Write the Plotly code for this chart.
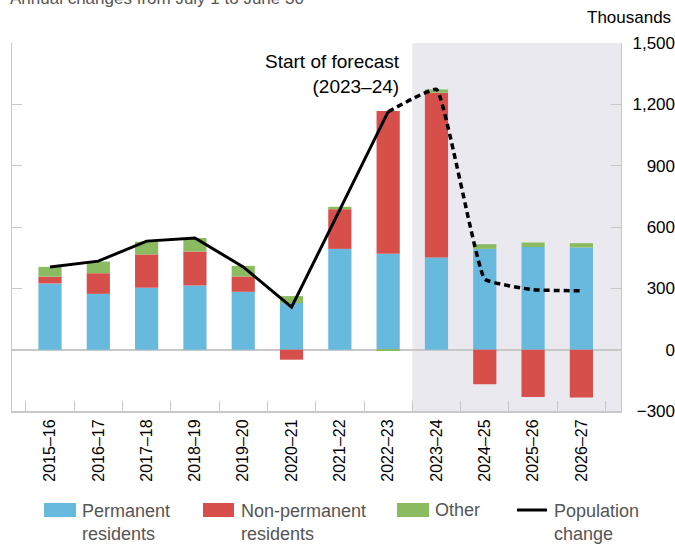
import plotly.graph_objects as go

years = ["2015–16", "2016–17", "2017–18", "2018–19", "2019–20", "2020–21",
         "2021–22", "2022–23", "2023–24", "2024–25", "2025–26", "2026–27"]
permanent = [324, 273, 303, 314, 283, 228, 493, 469, 451, 493, 502, 500]
non_permanent = [33, 101, 163, 166, 75, -49, 194, 698, 806, -169, -231, -234]
other = [48, 57, 62, 66, 52, 34, 12, -6, 16, 23, 22, 21]
pop_hist_years = years[:8]
pop_hist = [404, 433, 531, 546, 405, 208, 685, 1164]
pop_fcst_years = years[7:]
pop_fcst = [1164, 1273, 345, 293, 288]
yticks = [-300, 0, 300, 600, 900, 1200, 1500]

legend_labels = ["Permanent<br>residents", "Non-permanent<br>residents", "Other", "Population<br>change"]

C_BLUE = "#68b9de"
C_RED = "#d64f4b"
C_GREEN = "#8bbb61"
C_SHADE = "#e9e9ef"
C_AXIS = "#c8c8c8"
FONT = "Liberation Sans, Arial, Helvetica, sans-serif"

W, H = 675, 546
ml, mr, mt, mb = 12, 0, 43, 135
pw_total = W - ml - mr          # paper width in px
ph = H - mt - mb
plot_right = 621                # right edge of plotting area in px
x_dom_end = (plot_right - ml) / pw_total


def px(x):
    return (x - ml) / pw_total


def py(y):
    return (H - mb - y) / ph


fig = go.Figure()
for vals, col in [(permanent, C_BLUE), (non_permanent, C_RED), (other, C_GREEN)]:
    fig.add_trace(go.Bar(x=years, y=vals, marker=dict(color=col, line=dict(width=0)),
                         width=0.48, showlegend=False))

fig.add_trace(go.Scatter(x=pop_hist_years, y=pop_hist, mode="lines", yaxis="y2",
                         line=dict(color="black", width=3), showlegend=False))
fig.add_trace(go.Scatter(x=pop_fcst_years, y=pop_fcst, mode="lines", yaxis="y2",
                         line=dict(color="black", width=3.5, dash="6px,4px",
                                   shape="spline", smoothing=0.3),
                         showlegend=False))

shapes = [
    dict(type="rect", xref="x", yref="paper", x0=7.5, x1=11.82, y0=0, y1=1,
         fillcolor=C_SHADE, line=dict(width=0), layer="below"),
]
# manual legend
swatch_x = [(44, 76), (203, 234), (397, 429)]
for (x0, x1), col in zip(swatch_x, [C_BLUE, C_RED, C_GREEN]):
    shapes.append(dict(type="rect", xref="paper", yref="paper", x0=px(x0), x1=px(x1),
                       y0=py(517), y1=py(503), fillcolor=col, line=dict(width=0)))
shapes.append(dict(type="line", xref="paper", yref="paper", x0=px(517), x1=px(547),
                   y0=py(510), y1=py(510), line=dict(color="black", width=3)))

annotations = [
    dict(text="Annual changes from July 1 to June 30", xref="paper", yref="paper",
         x=px(8), y=py(-1), xanchor="left", yanchor="middle", showarrow=False,
         font=dict(size=17, color="#555555", family=FONT)),
    dict(text="Thousands", xref="paper", yref="paper", x=px(673), y=py(17),
         xanchor="right", yanchor="middle", showarrow=False,
         font=dict(size=17, color="black", family=FONT)),
    dict(text="Start of forecast<br>(2023–24)", xref="paper", yref="paper", x=px(402), y=py(74),
         xanchor="right", yanchor="middle", align="right", showarrow=False,
         font=dict(size=19, color="black", family=FONT)),
]
for lx, lab in zip([80, 239, 433, 552], legend_labels):
    two = "<br>" in lab
    annotations.append(dict(text=lab, xref="paper", yref="paper", x=px(lx),
                            y=py(499) if two else py(510),
                            xanchor="left", yanchor="top" if two else "middle",
                            align="left", showarrow=False,
                            font=dict(size=18, color="#555555", family=FONT)))

fig.update_layout(
    width=W, height=H,
    margin=dict(l=ml, r=mr, t=mt, b=mb, autoexpand=False),
    paper_bgcolor="white", plot_bgcolor="white",
    barmode="relative",
    font=dict(family=FONT, color="black"),
    shapes=shapes, annotations=annotations,
    xaxis=dict(type="category", range=[-0.787, 11.82], domain=[0, x_dom_end],
               tickson="boundaries", automargin=False,
               ticks="inside", ticklen=10, tickcolor=C_AXIS, tickwidth=1,
               showline=True, linecolor=C_AXIS, linewidth=2, tickangle=-90,
               tickfont=dict(size=16, color="black"), showgrid=False),
    yaxis=dict(side="right", range=[-300, 1500], tickvals=yticks, automargin=False,
               ticks="inside", ticklen=10, tickcolor=C_AXIS, tickwidth=1,
               showline=True, linecolor=C_AXIS, linewidth=1, mirror="ticks",
               showticklabels=False,
               showgrid=False, zeroline=True, zerolinecolor=C_AXIS, zerolinewidth=2),
    yaxis2=dict(overlaying="y", side="left", anchor="free", position=1.0,
                range=[-300, 1500], tickvals=yticks, tickformat=",", automargin=False,
                ticks="", showline=False, showgrid=False, zeroline=False,
                tickfont=dict(size=17, color="black")),
    showlegend=False,
)

fig.write_html("out.html", config={"displayModeBar": False},
               post_script="document.body.style.margin='0';document.body.style.overflow='hidden';")
